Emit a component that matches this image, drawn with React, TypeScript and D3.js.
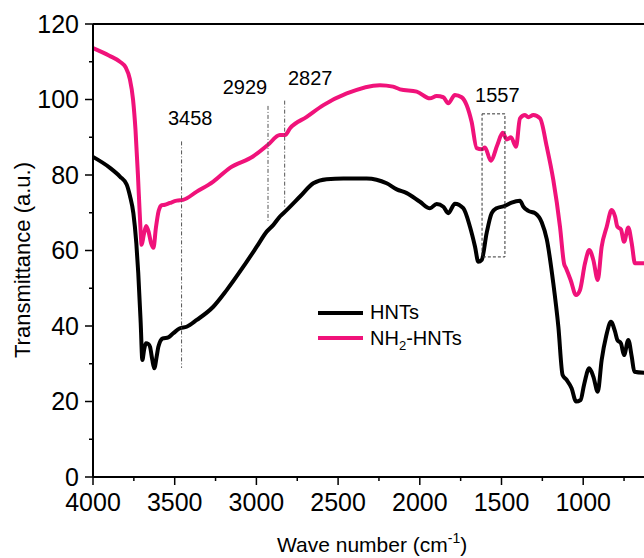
import React from 'react';
import * as d3 from 'd3';

// HNTs spectrum (wavenumber, transmittance)
const hntsWave = [4000, 3896, 3835, 3794, 3774, 3753, 3735, 3723, 3708, 3698, 3686, 3676, 3660, 3651, 3637, 3625, 3610, 3600, 3573, 3539, 3508, 3468, 3427, 3365, 3264, 3182, 3080, 2998, 2937, 2896, 2856, 2815, 2733, 2652, 2570, 2468, 2325, 2203, 2141, 2080, 1999, 1938, 1897, 1856, 1826, 1785, 1734, 1693, 1662, 1642, 1621, 1591, 1560, 1530, 1479, 1438, 1387, 1366, 1336, 1295, 1254, 1223, 1183, 1152, 1126, 1101, 1071, 1044, 1016, 995, 963, 938, 911, 887, 860, 830, 805, 791, 769, 750, 724, 703, 687, 620];
const hntsT = [84.8, 81.9, 79.6, 77.5, 74.5, 69.9, 62, 54, 40.7, 31, 34, 35.4, 35.2, 34.5, 31, 28.8, 32, 34.5, 36.7, 37, 38.1, 39.4, 39.8, 41.6, 45.1, 49.5, 55.7, 61, 65, 66.8, 69, 70.7, 74.3, 77.8, 78.9, 79.1, 79.1, 77.8, 76.2, 75.2, 72.9, 71.2, 72.3, 71.6, 69.9, 72.4, 71.2, 66.3, 61, 57, 57.5, 64.6, 69.9, 71.2, 71.8, 72.7, 73.2, 71.6, 70.5, 69.9, 67.5, 63, 51.3, 39.8, 27, 25.7, 23.5, 20, 20.4, 24.4, 28.8, 26.6, 22.6, 31, 37.2, 41.1, 38.5, 36.3, 35.4, 32.3, 36.3, 31.9, 27.9, 27.6];

// NH2-HNTs spectrum
const nh2Wave = [4000, 3900, 3835, 3800, 3775, 3755, 3740, 3725, 3712, 3702, 3690, 3675, 3660, 3645, 3630, 3615, 3598, 3580, 3560, 3529, 3488, 3449, 3365, 3266, 3162, 3021, 2929, 2856, 2825, 2794, 2692, 2590, 2447, 2244, 2164, 2121, 2019, 1938, 1897, 1856, 1826, 1785, 1744, 1713, 1683, 1652, 1621, 1601, 1566, 1525, 1493, 1468, 1442, 1411, 1387, 1356, 1336, 1305, 1264, 1223, 1183, 1142, 1117, 1105, 1077, 1044, 1020, 989, 963, 938, 911, 887, 856, 826, 805, 791, 769, 750, 724, 703, 683, 620];
const nh2T = [113.6, 111.6, 110, 108.5, 105.5, 100, 92, 80, 68, 61.5, 64, 66.5, 65, 62, 60.7, 66, 70.5, 72, 72.1, 72.6, 73.2, 73.4, 75.6, 78.2, 81.9, 84.9, 88, 90.6, 90.6, 92.4, 95.4, 98.5, 101.6, 103.8, 103.4, 102.7, 102.1, 100.3, 100.9, 100.6, 99, 101.2, 100.6, 98.5, 94.1, 87.1, 86.8, 87.3, 83.8, 88, 91.2, 89.4, 90, 87.5, 95, 95.9, 95.3, 95.9, 95, 87.5, 78.7, 66.3, 56.5, 55.3, 52.2, 48.2, 49.5, 56.6, 60.1, 57.5, 52.2, 61, 66.3, 70.7, 69, 66.3, 65.6, 62.3, 66.1, 61.9, 56.6, 56.6];

const xTicks = [4000, 3500, 3000, 2500, 2000, 1500, 1000];
const xMinor = [3750, 3250, 2750, 2250, 1750, 1250, 750];
const yTicks = [0, 20, 40, 60, 80, 100, 120];
const yMinor = [10, 30, 50, 70, 90, 110];

// peak markers: label, wavenumber, line top / bottom (a.u.), label anchor
const peakLabels = ['3458', '2929', '2827'];
const peakWave = [3458, 2929, 2827];
const peakTop = [88.9, 98.3, 99.7];
const peakBottom = [28.9, 67.5, 71.2];
const peakLabelT = [93.2, 101.5, 103.8];
const peakLabelWave = [3541, 3206, 2807];

// box round 1557
const boxLabel = '1557';
const boxWave = [1619, 1479];
const boxT = [96.2, 58.3];
const boxLabelWave = 1662;
const boxLabelT = 99.4;

const font = '"Liberation Sans", Arial, sans-serif';
const pink = '#f0127a';

export default function App() {
  const width = 644;
  const height = 558;
  const left = 93;
  const top = 24;
  const bottom = 477;

  const x = d3.scaleLinear().domain([4000, 400]).range([left, left + 3600 * 0.1634]);
  const y = d3.scaleLinear().domain([0, 120]).range([bottom, top]);

  const line = d3.line<[number, number]>()
    .x(d => x(d[0]))
    .y(d => y(d[1]))
    .curve(d3.curveMonotoneX);

  const hnts = line(hntsWave.map((w, i) => [w, hntsT[i]]));
  const nh2 = line(nh2Wave.map((w, i) => [w, nh2T[i]]));

  return (
    <svg width={width} height={height} style={{ position: 'absolute', left: 0, top: 0, background: '#fff' }} fontFamily={font}>
      <path d={nh2 || ''} fill="none" stroke={pink} strokeWidth={4} strokeLinejoin="round" />
      <path d={hnts || ''} fill="none" stroke="#000" strokeWidth={4} strokeLinejoin="round" />

      {peakWave.map((w, i) => (
        <g key={peakLabels[i]}>
          <line x1={x(w)} x2={x(w)} y1={y(peakTop[i])} y2={y(peakBottom[i])} stroke="#555" strokeWidth={1} strokeDasharray="4,2,1,2" />
          <text x={x(peakLabelWave[i])} y={y(peakLabelT[i])} fontSize={20}>{peakLabels[i]}</text>
        </g>
      ))}
      <rect x={x(boxWave[0])} y={y(boxT[0])} width={x(boxWave[1]) - x(boxWave[0])} height={y(boxT[1]) - y(boxT[0])} fill="none" stroke="#333" strokeWidth={1} strokeDasharray="3,2" />
      <text x={x(boxLabelWave)} y={y(boxLabelT)} fontSize={20}>{boxLabel}</text>

      {/* axes */}
      <line x1={left} x2={width} y1={bottom} y2={bottom} stroke="#000" strokeWidth={2} />
      <line x1={left} x2={width} y1={top} y2={top} stroke="#000" strokeWidth={2} />
      <line x1={left} x2={left} y1={top} y2={bottom} stroke="#000" strokeWidth={2} />
      {xTicks.map(t => (
        <g key={t}>
          <line x1={x(t)} x2={x(t)} y1={bottom} y2={bottom + 8} stroke="#000" strokeWidth={1.5} />
          <text x={x(t)} y={511} fontSize={25} textAnchor="middle">{t}</text>
        </g>
      ))}
      {xMinor.map(t => (
        <line key={t} x1={x(t)} x2={x(t)} y1={bottom} y2={bottom + 4} stroke="#000" strokeWidth={1.5} />
      ))}
      {yTicks.map(t => (
        <g key={t}>
          <line x1={left - 8} x2={left} y1={y(t)} y2={y(t)} stroke="#000" strokeWidth={1.5} />
          <text x={79} y={y(t)} dy="0.35em" fontSize={25} textAnchor="end">{t}</text>
        </g>
      ))}
      {yMinor.map(t => (
        <line key={t} x1={left - 4} x2={left} y1={y(t)} y2={y(t)} stroke="#000" strokeWidth={1.5} />
      ))}

      <text x={277} y={552} fontSize={21}>
        Wave number (cm<tspan fontSize={14} dy={-9}>-1</tspan><tspan dy={9}>)</tspan>
      </text>
      <text transform="translate(30,260) rotate(-90)" fontSize={22} textAnchor="middle">Transmittance (a.u.)</text>

      {/* legend */}
      <line x1={318} x2={363} y1={313} y2={313} stroke="#000" strokeWidth={4} />
      <text x={370} y={319} fontSize={20}>HNTs</text>
      <line x1={318} x2={363} y1={338} y2={338} stroke={pink} strokeWidth={4} />
      <text x={370} y={345} fontSize={20}>
        NH<tspan fontSize={13} dy={5}>2</tspan><tspan dy={-5}>-HNTs</tspan>
      </text>
    </svg>
  );
}
